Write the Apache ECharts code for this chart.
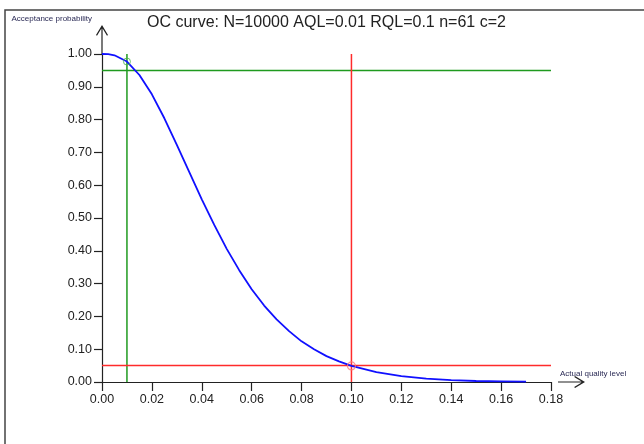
<!DOCTYPE html>
<html>
<head>
<meta charset="utf-8">
<script src="https://cdn.jsdelivr.net/npm/echarts@6/dist/echarts.min.js"></script>
<style>html,body{margin:0;padding:0;background:#fff}#c{width:644px;height:444px}</style>
</head>
<body>
<div id="c"></div>
<script>
// Values
var titleText = 'OC curve: N=10000 AQL=0.01 RQL=0.1 n=61 c=2';
var xAxisName = 'Actual quality level';
var yAxisName = 'Acceptance probability';
var xTicks = [0, 0.02, 0.04, 0.06, 0.08, 0.10, 0.12, 0.14, 0.16, 0.18];
var yTicks = [0, 0.1, 0.2, 0.3, 0.4, 0.5, 0.6, 0.7, 0.8, 0.9, 1.0];
var qualityLevels = [0, 0.0025, 0.005, 0.01, 0.015, 0.02, 0.025, 0.03, 0.035, 0.04, 0.045, 0.05, 0.055, 0.06, 0.065, 0.07, 0.075, 0.08, 0.085, 0.09, 0.095, 0.10, 0.11, 0.12, 0.13, 0.14, 0.15, 0.16, 0.17];
var acceptProb = [1.000, 0.9995, 0.996, 0.977, 0.936, 0.877, 0.804, 0.723, 0.640, 0.557, 0.479, 0.406, 0.341, 0.283, 0.233, 0.191, 0.155, 0.124, 0.100, 0.079, 0.063, 0.049, 0.030, 0.018, 0.010, 0.006, 0.003, 0.002, 0.001];
var aql = 0.01, aqlProb = 0.95, aqlPoint = 0.977;
var rql = 0.10, rqlProb = 0.05, rqlPoint = 0.049;
var xEnd = 0.18, yEnd = 1.0;

var curve = qualityLevels.map(function (x, i) { return [x, acceptProb[i]]; });

function arrowPath(len) {
  return 'path://M6 0 L12 10 L11 10.8 L6.6 3.4 L6.6 ' + len + ' L5.4 ' + len + ' L5.4 3.4 L1 10.8 L0 10 Z';
}
var GREEN = '#1f9a1f', RED = '#ff2b2b', BLUE = '#1010ff';
var fmt = function (v) { return v.toFixed(2); };

var chart = echarts.init(document.getElementById('c'), null, {renderer: 'canvas'});
chart.setOption({
  animation: false,
  backgroundColor: '#fff',
  title: {
    text: titleText, left: 142, top: 10,
    textStyle: {fontFamily: 'Liberation Sans', fontSize: 16, fontWeight: 'normal', color: '#222'}
  },
  graphic: [{
    type: 'rect', shape: {x: 5, y: 10, width: 800, height: 600},
    style: {fill: 'none', stroke: '#444', lineWidth: 1.5}, silent: true
  }],
  grid: {left: 102, right: 93, top: 54, bottom: 62, containLabel: false},
  xAxis: {
    type: 'value', min: 0, max: xEnd, interval: 0.02,
    name: xAxisName, nameLocation: 'end', nameGap: 9,
    nameTextStyle: {fontFamily: 'Liberation Sans', fontSize: 8, color: '#2a2a55', verticalAlign: 'bottom', align: 'left', padding: [0, 0, 4, 0]},
    axisLine: {lineStyle: {color: '#222', width: 1.2}, symbol: ['none', arrowPath(27)], symbolSize: [12, 27], symbolOffset: [0, 20.5]},
    axisTick: {length: 9, lineStyle: {color: '#222', width: 1.2}, customValues: xTicks},
    axisLabel: {margin: 11, fontFamily: 'Liberation Sans', fontSize: 12.5, color: '#222', formatter: fmt, customValues: xTicks},
    splitLine: {show: false}
  },
  yAxis: {
    type: 'value', min: 0, max: yEnd, interval: 0.1,
    name: yAxisName, nameLocation: 'end', nameGap: 35,
    nameTextStyle: {fontFamily: 'Liberation Sans', fontSize: 8, color: '#2a2a55', align: 'right', verticalAlign: 'middle', padding: [0, 10, 0, 0]},
    axisLine: {lineStyle: {color: '#222', width: 1.2}, symbol: ['none', arrowPath(29)], symbolSize: [12, 29], symbolOffset: [0, 14.5]},
    axisTick: {length: 8, lineStyle: {color: '#222', width: 1.2}, customValues: yTicks},
    axisLabel: {margin: 10, fontFamily: 'Liberation Sans', fontSize: 12.5, color: '#222', formatter: fmt, customValues: yTicks},
    splitLine: {show: false}
  },
  series: [
    {type: 'line', data: [[0, aqlProb], [xEnd, aqlProb]], symbol: 'none', lineStyle: {color: GREEN, width: 1.5}, z: 2},
    {type: 'line', data: [[aql, 0], [aql, yEnd]], symbol: 'none', lineStyle: {color: GREEN, width: 1.5}, z: 2},
    {type: 'line', data: [[0, rqlProb], [xEnd, rqlProb]], symbol: 'none', lineStyle: {color: RED, width: 1.5}, z: 2},
    {type: 'line', data: [[rql, 0], [rql, yEnd]], symbol: 'none', lineStyle: {color: RED, width: 1.5}, z: 2},
    {type: 'line', data: curve, symbol: 'none', smooth: false, lineStyle: {color: BLUE, width: 1.8}, z: 3},
    {type: 'scatter', data: [[aql, aqlPoint]], symbol: 'circle', symbolSize: 7, itemStyle: {color: 'rgba(0,0,0,0)', borderColor: '#4ab04a', borderWidth: 1}, z: 4},
    {type: 'scatter', data: [[rql, rqlPoint]], symbol: 'circle', symbolSize: 8, itemStyle: {color: 'rgba(0,0,0,0)', borderColor: '#ff7a7a', borderWidth: 1.2}, z: 4}
  ]
});
</script>
</body>
</html>
